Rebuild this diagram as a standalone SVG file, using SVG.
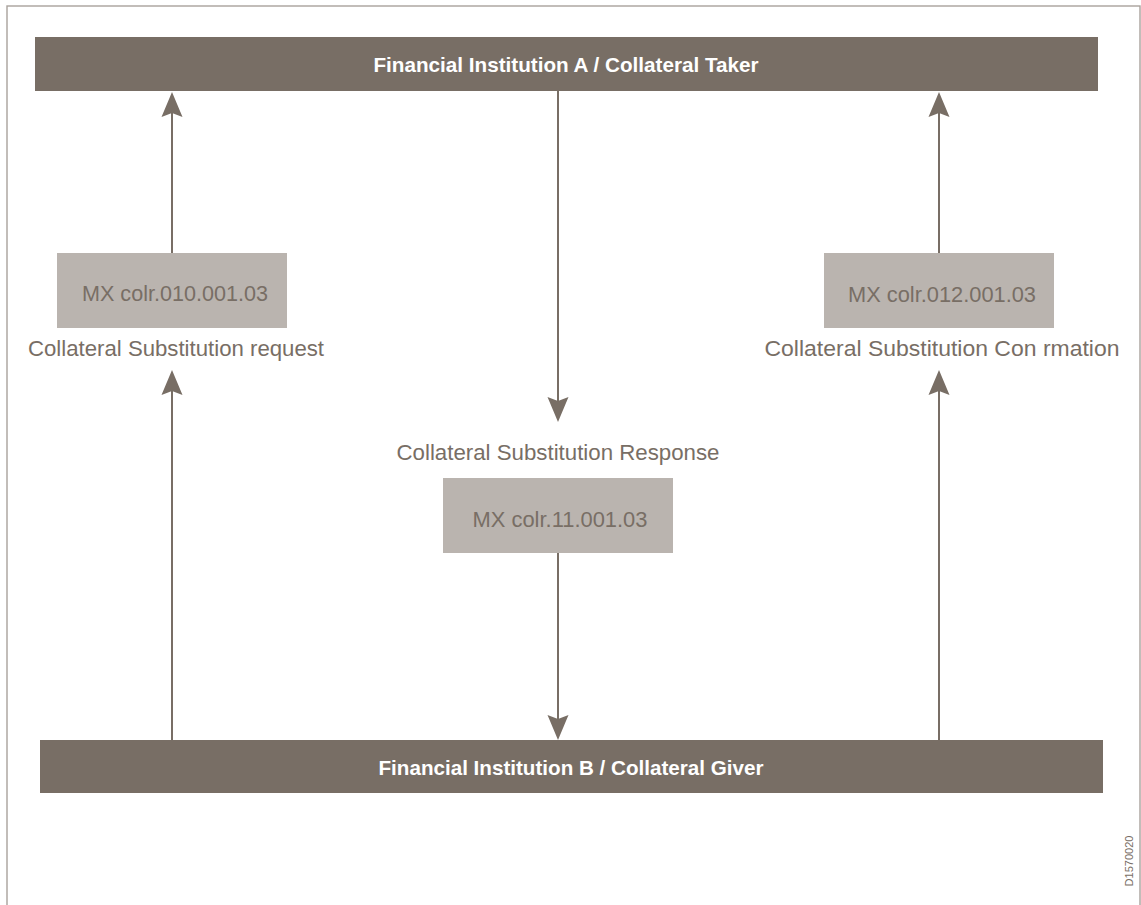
<svg xmlns="http://www.w3.org/2000/svg" width="1141" height="905" viewBox="0 0 1141 905">
  <style>
    .bar { fill: #786e65; }
    .msg { fill: #bab4af; }
    .bar-text { font-family: "Liberation Sans", Arial, sans-serif; font-weight: bold; font-size: 21px; fill: #ffffff; text-anchor: middle; }
    .msg-text { font-family: "Liberation Sans", Arial, sans-serif; font-size: 22px; fill: #786e65; text-anchor: middle; }
    .label { font-family: "Liberation Sans", Arial, sans-serif; font-size: 22px; fill: #786e65; text-anchor: middle; }
    .flow { stroke: #786e65; stroke-width: 2; fill: none; marker-end: url(#head); }
    .ref { font-family: "Liberation Sans", Arial, sans-serif; font-size: 11px; fill: #786e65; text-anchor: middle; }
  </style>
  <defs>
    <marker id="head" viewBox="-16 -11 27 22" markerWidth="27" markerHeight="22" refX="0" refY="0" markerUnits="userSpaceOnUse" orient="auto" overflow="visible">
      <path d="M10,0 L-15,-10.5 L-11,0 L-15,10.5 Z" fill="#786e65"/>
    </marker>
  </defs>

  <rect x="0" y="0" width="1141" height="905" fill="#ffffff"/>
  <!-- frame -->
  <rect x="7" y="6" width="1133" height="910" fill="none" stroke="#a9a29c" stroke-width="1.4"/>

  <!-- message flows -->
  <g id="connectors">
    <line class="flow" x1="172" y1="253" x2="172" y2="102"/>
    <line class="flow" x1="172" y1="740" x2="172" y2="380"/>
    <line class="flow" x1="558" y1="91" x2="558" y2="412"/>
    <line class="flow" x1="558" y1="553" x2="558" y2="730"/>
    <line class="flow" x1="939" y1="253" x2="939" y2="102"/>
    <line class="flow" x1="939" y1="740" x2="939" y2="380"/>
  </g>

  <g id="institution-a">
    <rect class="bar" x="35" y="37" width="1063" height="54"/>
    <text class="bar-text" x="566" y="72" textLength="385" lengthAdjust="spacingAndGlyphs">Financial Institution A / Collateral Taker</text>
  </g>

  <g id="institution-b">
    <rect class="bar" x="40" y="740" width="1063" height="53"/>
    <text class="bar-text" x="571" y="775" textLength="385" lengthAdjust="spacingAndGlyphs">Financial Institution B / Collateral Giver</text>
  </g>

  <g id="substitution-request">
    <rect class="msg" x="57" y="253" width="230" height="75"/>
    <text class="msg-text" x="175" y="301" textLength="186" lengthAdjust="spacingAndGlyphs">MX colr.010.001.03</text>
    <text class="label" x="176" y="356" textLength="296" lengthAdjust="spacingAndGlyphs">Collateral Substitution request</text>
  </g>

  <g id="substitution-response">
    <text class="label" x="558" y="460" textLength="323" lengthAdjust="spacingAndGlyphs">Collateral Substitution Response</text>
    <rect class="msg" x="443" y="478" width="230" height="75"/>
    <text class="msg-text" x="560" y="527" textLength="175" lengthAdjust="spacingAndGlyphs">MX colr.11.001.03</text>
  </g>

  <g id="substitution-confirmation">
    <rect class="msg" x="824" y="253" width="230" height="75"/>
    <text class="msg-text" x="942" y="302" textLength="188" lengthAdjust="spacingAndGlyphs">MX colr.012.001.03</text>
    <text class="label" x="942" y="356" textLength="355" lengthAdjust="spacingAndGlyphs">Collateral Substitution Con rmation</text>
  </g>

  <text class="ref" x="0" y="0" transform="translate(1133,861) rotate(-90)">D1570020</text>
</svg>
